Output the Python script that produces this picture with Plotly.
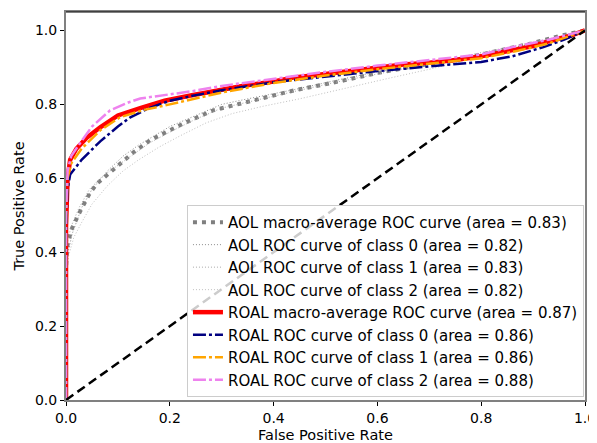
import plotly.graph_objects as go

# ROC curves (false positive rate, true positive rate)
aol_macro_fpr = [0, 0, 0.003, 0.01, 0.027, 0.046, 0.06, 0.08, 0.104, 0.13, 0.162, 0.2, 0.226, 0.284,
                 0.362, 0.44, 0.536, 0.6, 0.679, 0.75, 0.8, 0.897, 0.95, 1.0]
aol_macro_tpr = [0, 0.36, 0.42, 0.46, 0.51, 0.56, 0.586, 0.61, 0.64, 0.67, 0.703, 0.73, 0.748, 0.784,
                 0.81, 0.838, 0.865, 0.885, 0.905, 0.92, 0.935, 0.965, 0.985, 1.0]

aol_c0_fpr = [0, 0, 0.004, 0.012, 0.03, 0.05, 0.08, 0.11, 0.14, 0.17, 0.2, 0.25, 0.3, 0.35,
              0.44, 0.53, 0.6, 0.68, 0.8, 0.9, 1.0]
aol_c0_tpr = [0, 0.34, 0.40, 0.45, 0.52, 0.57, 0.62, 0.66, 0.69, 0.715, 0.74, 0.77, 0.80, 0.815,
              0.84, 0.868, 0.888, 0.905, 0.935, 0.965, 1.0]

aol_c1_fpr = [0, 0, 0.003, 0.01, 0.025, 0.045, 0.07, 0.1, 0.13, 0.16, 0.2, 0.25, 0.3, 0.36,
              0.44, 0.52, 0.6, 0.7, 0.8, 0.9, 1.0]
aol_c1_tpr = [0, 0.38, 0.43, 0.47, 0.52, 0.57, 0.605, 0.635, 0.665, 0.695, 0.725, 0.76, 0.79, 0.81,
              0.835, 0.86, 0.882, 0.91, 0.94, 0.968, 1.0]

aol_c2_fpr = [0, 0, 0.005, 0.015, 0.03, 0.05, 0.08, 0.11, 0.14, 0.18, 0.22, 0.27, 0.32, 0.38,
              0.45, 0.54, 0.62, 0.7, 0.8, 0.9, 1.0]
aol_c2_tpr = [0, 0.33, 0.39, 0.44, 0.48, 0.53, 0.58, 0.62, 0.65, 0.685, 0.715, 0.75, 0.775, 0.795,
              0.815, 0.845, 0.87, 0.895, 0.93, 0.962, 1.0]

roal_macro_fpr = [0, 0, 0.003, 0.008, 0.02, 0.04, 0.066, 0.1, 0.143, 0.19, 0.24, 0.3, 0.337, 0.4,
                  0.44, 0.5, 0.555, 0.6, 0.65, 0.7, 0.743, 0.8, 0.859, 0.9, 0.936, 0.97, 1.0]
roal_macro_tpr = [0, 0.47, 0.60, 0.65, 0.68, 0.71, 0.738, 0.77, 0.79, 0.81, 0.824, 0.84, 0.849, 0.862,
                  0.873, 0.882, 0.892, 0.90, 0.908, 0.913, 0.919, 0.93, 0.946, 0.958, 0.973, 0.985, 1.0]

roal_c0_fpr = [0, 0, 0.003, 0.008, 0.03, 0.066, 0.1, 0.124, 0.16, 0.2, 0.25, 0.3, 0.4, 0.5,
               0.6, 0.7, 0.8, 0.86, 0.92, 0.96, 1.0]
roal_c0_tpr = [0, 0.45, 0.57, 0.61, 0.65, 0.70, 0.74, 0.765, 0.79, 0.81, 0.825, 0.838, 0.86, 0.876,
               0.89, 0.903, 0.915, 0.93, 0.955, 0.975, 1.0]

roal_c1_fpr = [0, 0, 0.003, 0.01, 0.03, 0.066, 0.104, 0.15, 0.2, 0.25, 0.3, 0.4, 0.5, 0.6,
               0.7, 0.8, 0.87, 0.93, 1.0]
roal_c1_tpr = [0, 0.48, 0.60, 0.64, 0.68, 0.73, 0.765, 0.785, 0.80, 0.815, 0.832, 0.858, 0.878, 0.895,
               0.91, 0.925, 0.945, 0.965, 1.0]

roal_c2_fpr = [0, 0, 0.003, 0.01, 0.027, 0.05, 0.085, 0.12, 0.143, 0.19, 0.24, 0.3, 0.4, 0.5,
               0.6, 0.7, 0.8, 0.86, 0.93, 1.0]
roal_c2_tpr = [0, 0.50, 0.62, 0.66, 0.695, 0.74, 0.784, 0.805, 0.816, 0.826, 0.835, 0.85, 0.87, 0.888,
               0.905, 0.92, 0.935, 0.955, 0.975, 1.0]

chance = [0, 1]

fig = go.Figure()

curvas = [
    (aol_macro_fpr, aol_macro_tpr, "AOL macro-average ROC curve (area = 0.83)", "#7f7f7f", 4, "4px,5px"),
    (aol_c0_fpr, aol_c0_tpr, "AOL ROC curve of class 0 (area = 0.82)", "#8c8c8c", 1, "1px,2px"),
    (aol_c1_fpr, aol_c1_tpr, "AOL ROC curve of class 1 (area = 0.83)", "#a9a9a9", 1, "1px,2px"),
    (aol_c2_fpr, aol_c2_tpr, "AOL ROC curve of class 2 (area = 0.82)", "#c0c0c0", 1, "1px,2px"),
    (roal_macro_fpr, roal_macro_tpr, "ROAL macro-average ROC curve (area = 0.87)", "red", 4.5, "solid"),
    (roal_c0_fpr, roal_c0_tpr, "ROAL ROC curve of class 0 (area = 0.86)", "navy", 2.5, "13px,3px,3px,3px"),
    (roal_c1_fpr, roal_c1_tpr, "ROAL ROC curve of class 1 (area = 0.86)", "orange", 2.5, "13px,3px,3px,3px"),
    (roal_c2_fpr, roal_c2_tpr, "ROAL ROC curve of class 2 (area = 0.88)", "violet", 2.5, "13px,3px,3px,3px"),
]

for x, y, nombre, color, ancho, guion in curvas:
    fig.add_trace(go.Scatter(x=x, y=y, mode="lines", name=nombre,
                             line=dict(color=color, width=ancho, dash=guion)))

# Diagonal de referencia
fig.add_trace(go.Scatter(x=chance, y=chance, mode="lines", showlegend=False,
                         line=dict(color="black", width=2.5, dash="9px,5px")))

# la página tiene 8px de margen en el body, se compensa en los márgenes
fig.update_layout(
    width=589,
    height=435,
    margin=dict(l=58, r=12, t=4, b=43),
    paper_bgcolor="white",
    plot_bgcolor="white",
    font=dict(family="DejaVu Sans", size=14, color="black"),
    hovermode=False,
    legend=dict(
        x=0.998, y=0.008, xanchor="right", yanchor="bottom",
        bgcolor="rgba(255,255,255,0.8)",
        bordercolor="#cccccc", borderwidth=1,
        font=dict(size=15),
    ),
    shapes=[dict(type="line", xref="paper", yref="paper", x0=0, x1=1, y0=1, y1=1,
                 layer="above", line=dict(color="black", width=1))],
)

fig.update_xaxes(
    range=[0, 1], tickvals=[0, 0.2, 0.4, 0.6, 0.8, 1.0], tickformat=".1f",
    title=dict(text="False Positive Rate", standoff=5, font=dict(size=14.5)),
    showgrid=False, zeroline=False, showline=True, linecolor="#808080", linewidth=2,
    mirror=True, ticks="outside", ticklen=4, tickcolor="black", automargin=False,
    ticklabeloverflow="allow",
)
fig.update_yaxes(
    range=[0, 1.05], tickvals=[0, 0.2, 0.4, 0.6, 0.8, 1.0], tickformat=".1f",
    title=dict(text="True Positive Rate", standoff=7, font=dict(size=14.5)),
    showgrid=False, zeroline=False, showline=True, linecolor="#808080", linewidth=2,
    mirror=True, ticks="outside", ticklen=4, tickcolor="black", automargin=False,
)

fig.write_html("out.html")
